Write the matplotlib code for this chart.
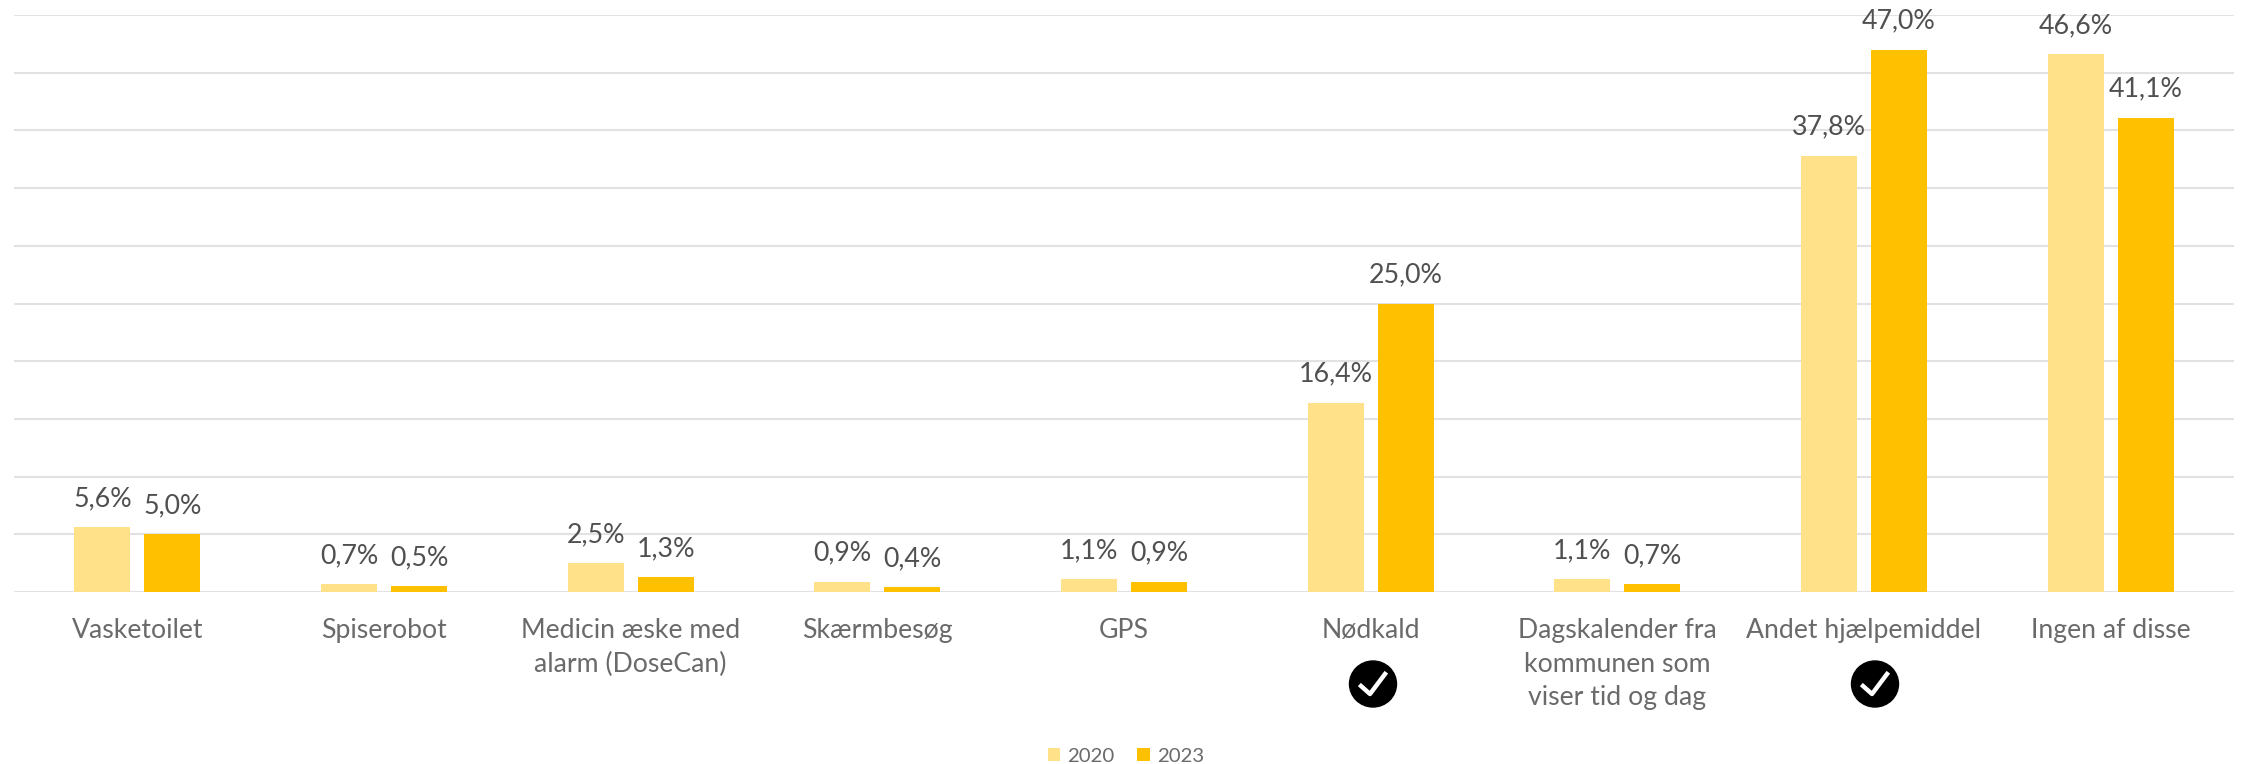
import numpy as np
import matplotlib
matplotlib.use('Agg')
import matplotlib.pyplot as plt
from matplotlib.patches import Ellipse

# Data
kategorier = ['Vasketoilet', 'Spiserobot', 'Medicin æske med\nalarm (DoseCan)', 'Skærmbesøg', 'GPS',
              'Nødkald', 'Dagskalender fra\nkommunen som\nviser tid og dag', 'Andet hjælpemiddel', 'Ingen af disse']
vaerdi_2020 = [5.6, 0.7, 2.5, 0.9, 1.1, 16.4, 1.1, 37.8, 46.6]
vaerdi_2023 = [5.0, 0.5, 1.3, 0.4, 0.9, 25.0, 0.7, 47.0, 41.1]
aar = ['2020', '2023']

W, H = 2244, 764
plt.rcParams['font.family'] = ['Lato', 'DejaVu Sans']

fig = plt.figure(figsize=(W / 100, H / 100), dpi=100)
ax = fig.add_axes([14 / W, 1 - 592 / H, (2234 - 14) / W, (592 - 15) / H])

x = np.arange(len(kategorier))
bredde = 0.227
ax.bar(x - 0.142, vaerdi_2020, bredde, color='#FFE18A', label=aar[0], zorder=3)
ax.bar(x + 0.142, vaerdi_2023, bredde, color='#FFC000', label=aar[1], zorder=3)

# Værdier over søjlerne
for xs, v in [(x - 0.142, vaerdi_2020), (x + 0.142, vaerdi_2023)]:
    for a, b in zip(xs, v):
        ax.annotate(f'{b:.1f}%'.replace('.', ','), (a, b), xytext=(0, 16), textcoords='offset pixels',
                    ha='center', va='bottom', fontsize=19.3, color='#505050', zorder=4, clip_on=False)

ax.set_xlim(-0.5, len(kategorier) - 0.5)
ax.set_ylim(0, 50)
ax.set_yticks(np.arange(0, 51, 5))
ax.set_yticklabels([])
ax.set_xticks(x)
ax.set_xticklabels(kategorier, fontsize=19.2, color='#6A6A6A', linespacing=1.42)
ax.tick_params(axis='both', length=0)
ax.tick_params(axis='x', pad=19)
ax.grid(axis='y', color='#E2E2E2', linewidth=1.5, zorder=0)
ax.set_axisbelow(True)
for s in ax.spines.values():
    s.set_visible(False)

# Flueben under to af kategorierne (pixelplacering i figuren)
for cx, cy in [(1373, 684), (1875, 684)]:
    fig.add_artist(Ellipse((cx / W, 1 - cy / H), 47 / W, 46 / H, color='black', transform=fig.transFigure))
    fig.add_artist(plt.Line2D(np.array([cx - 12, cx - 3, cx + 12]) / W,
                              1 - np.array([cy + 2, cy + 10, cy - 10]) / H, color='white', linewidth=3.2,
                              transform=fig.transFigure))

handles, labels = ax.get_legend_handles_labels()
fig.legend(handles, labels, loc='center', bbox_to_anchor=(1126 / W, 1 - 756 / H), ncol=2, frameon=False,
           fontsize=14.7, labelcolor='#6A6A6A', handlelength=0.62, handleheight=0.62, handletextpad=0.35,
           columnspacing=1.1, borderpad=0)

fig.savefig('out.png', dpi=100, facecolor='white')
